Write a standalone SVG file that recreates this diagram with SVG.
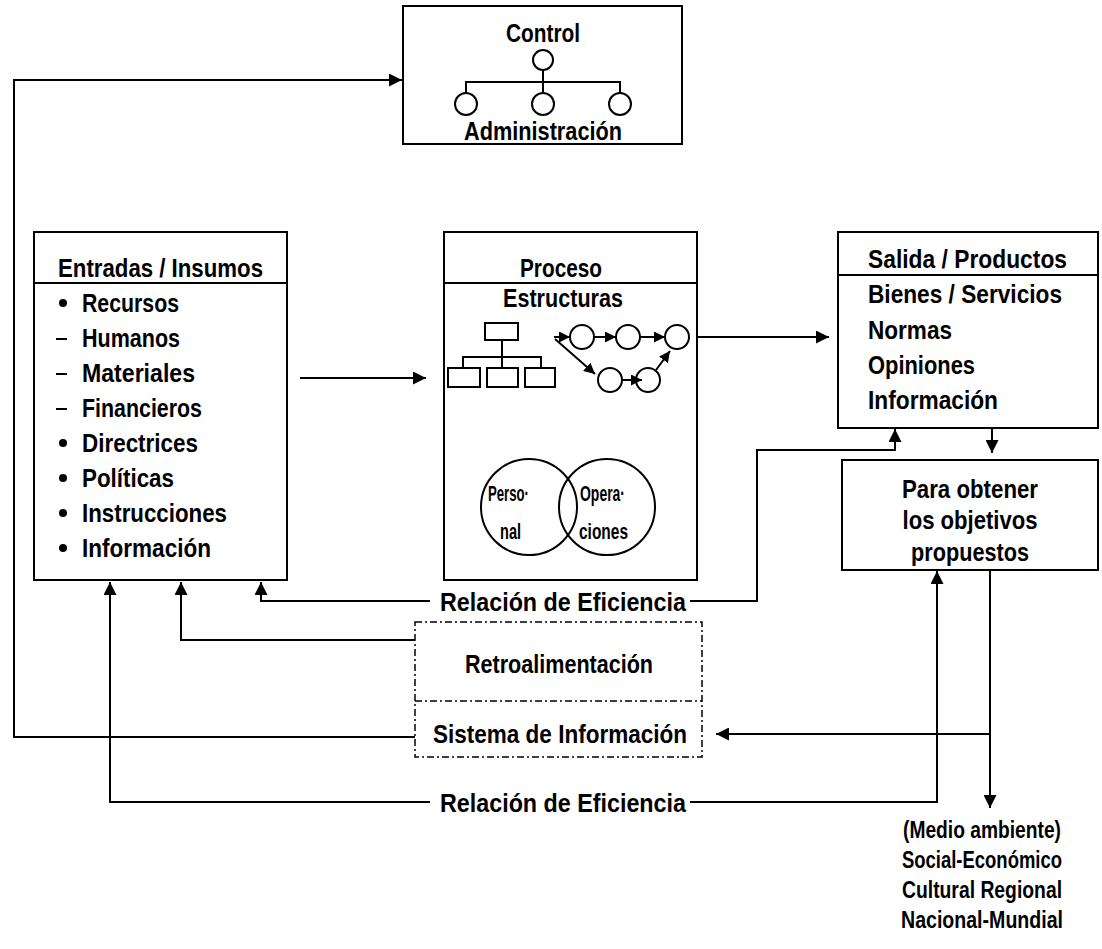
<svg xmlns="http://www.w3.org/2000/svg" width="1102" height="949" viewBox="0 0 1102 949">
  <style>
    .box { fill: #fff; stroke: #000; stroke-width: 2; }
    .ln { fill: none; stroke: #000; stroke-width: 2; }
    .dash { fill: none; stroke: #000; stroke-width: 1.5; stroke-dasharray: 7 3 2 3; }
    .t { font-family: "Liberation Sans", Arial, sans-serif; font-size: 26px; font-weight: bold; fill: #000; }
    .e { font-family: "Liberation Sans", Arial, sans-serif; font-size: 23px; font-weight: bold; fill: #000; }
    .s { font-family: "Liberation Sans", Arial, sans-serif; font-size: 22px; font-weight: bold; fill: #000; }
    .c { text-anchor: middle; }
  </style>
  <defs>
    <marker id="ah" viewBox="0 0 10 10" refX="10" refY="5" markerWidth="13" markerHeight="13" markerUnits="userSpaceOnUse" orient="auto">
      <path d="M0,0 L10,5 L0,10 z" fill="#000"/>
    </marker>
    <marker id="ahs" viewBox="0 0 10 10" refX="10" refY="5" markerWidth="11" markerHeight="11" markerUnits="userSpaceOnUse" orient="auto">
      <path d="M0,0 L10,5 L0,10 z" fill="#000"/>
    </marker>
  </defs>

  <!-- Control / Administración -->
  <g id="control">
    <rect class="box" x="403" y="6" width="279" height="138"/>
    <text class="t c" x="543" y="42" textLength="74" lengthAdjust="spacingAndGlyphs">Control</text>
    <circle class="ln" cx="543" cy="60" r="10"/>
    <path class="ln" d="M543,70 V82 M466,93 V82 H620 V93 M543,82 V93"/>
    <circle class="ln" cx="466" cy="104" r="11"/>
    <circle class="ln" cx="543" cy="104" r="11"/>
    <circle class="ln" cx="620" cy="104" r="11"/>
    <text class="t c" x="543" y="140" textLength="158" lengthAdjust="spacingAndGlyphs">Administración</text>
  </g>

  <!-- Entradas / Insumos -->
  <g id="entradas">
    <rect class="box" x="34" y="232" width="253" height="348"/>
    <line class="ln" x1="34" y1="283" x2="287" y2="283"/>
    <text class="t" x="58" y="277" textLength="205" lengthAdjust="spacingAndGlyphs">Entradas / Insumos</text>
    <circle cx="63" cy="303" r="4"/>
    <text class="t" x="82" y="312" textLength="97" lengthAdjust="spacingAndGlyphs">Recursos</text>
    <line class="ln" x1="56" y1="339" x2="67" y2="339"/>
    <text class="t" x="82" y="347" textLength="98" lengthAdjust="spacingAndGlyphs">Humanos</text>
    <line class="ln" x1="56" y1="374" x2="67" y2="374"/>
    <text class="t" x="82" y="382" textLength="113" lengthAdjust="spacingAndGlyphs">Materiales</text>
    <line class="ln" x1="56" y1="409" x2="67" y2="409"/>
    <text class="t" x="82" y="417" textLength="120" lengthAdjust="spacingAndGlyphs">Financieros</text>
    <circle cx="63" cy="443" r="4"/>
    <text class="t" x="82" y="452" textLength="116" lengthAdjust="spacingAndGlyphs">Directrices</text>
    <circle cx="63" cy="478" r="4"/>
    <text class="t" x="82" y="487" textLength="92" lengthAdjust="spacingAndGlyphs">Políticas</text>
    <circle cx="63" cy="513" r="4"/>
    <text class="t" x="82" y="522" textLength="145" lengthAdjust="spacingAndGlyphs">Instrucciones</text>
    <circle cx="63" cy="548" r="4"/>
    <text class="t" x="82" y="557" textLength="129" lengthAdjust="spacingAndGlyphs">Información</text>
  </g>

  <!-- Proceso -->
  <g id="proceso">
    <rect class="box" x="444" y="232" width="253" height="348"/>
    <line class="ln" x1="444" y1="283" x2="697" y2="283"/>
    <text class="t c" x="561" y="277" textLength="82" lengthAdjust="spacingAndGlyphs">Proceso</text>
    <text class="t c" x="563" y="307" textLength="120" lengthAdjust="spacingAndGlyphs">Estructuras</text>
    <!-- organisation chart -->
    <rect class="ln" x="485" y="323" width="33" height="17"/>
    <path class="ln" d="M502,340 V357 M463,368 V357 H541 V368 M502,357 V368"/>
    <rect class="ln" x="448" y="368" width="32" height="19"/>
    <rect class="ln" x="487" y="368" width="31" height="19"/>
    <rect class="ln" x="525" y="368" width="30" height="19"/>
    <!-- operations network -->
    <circle class="ln" cx="582" cy="337" r="12"/>
    <circle class="ln" cx="628" cy="337" r="12"/>
    <circle class="ln" cx="677" cy="337" r="12"/>
    <circle class="ln" cx="610" cy="380" r="12"/>
    <circle class="ln" cx="648" cy="380" r="12"/>
    <path class="ln" d="M554,337 H570" marker-end="url(#ahs)"/>
    <path class="ln" d="M594,337 H616" marker-end="url(#ahs)"/>
    <path class="ln" d="M640,337 H665" marker-end="url(#ahs)"/>
    <path class="ln" d="M555,339 L595,374" marker-end="url(#ahs)"/>
    <path class="ln" d="M622,380 H642" marker-end="url(#ahs)"/>
    <path class="ln" d="M656,370 L670,351" marker-end="url(#ahs)"/>
    <!-- Personal / Operaciones -->
    <circle class="ln" cx="529" cy="507" r="48"/>
    <circle class="ln" cx="607" cy="507" r="48"/>
    <text class="s" x="488" y="501" textLength="41" lengthAdjust="spacingAndGlyphs">Perso·</text>
    <text class="s" x="500" y="539" textLength="21" lengthAdjust="spacingAndGlyphs">nal</text>
    <text class="s" x="580" y="501" textLength="45" lengthAdjust="spacingAndGlyphs">Opera·</text>
    <text class="s" x="579" y="539" textLength="49" lengthAdjust="spacingAndGlyphs">ciones</text>
  </g>

  <!-- Salida / Productos -->
  <g id="salida">
    <rect class="box" x="838" y="232" width="260" height="196"/>
    <line class="ln" x1="838" y1="275" x2="1098" y2="275"/>
    <text class="t" x="868" y="268" textLength="199" lengthAdjust="spacingAndGlyphs">Salida / Productos</text>
    <text class="t" x="868" y="303" textLength="194" lengthAdjust="spacingAndGlyphs">Bienes / Servicios</text>
    <text class="t" x="868" y="339" textLength="84" lengthAdjust="spacingAndGlyphs">Normas</text>
    <text class="t" x="868" y="374" textLength="107" lengthAdjust="spacingAndGlyphs">Opiniones</text>
    <text class="t" x="868" y="409" textLength="130" lengthAdjust="spacingAndGlyphs">Información</text>
  </g>

  <!-- Para obtener los objetivos propuestos -->
  <g id="objetivos">
    <rect class="box" x="842" y="460" width="256" height="110"/>
    <text class="t c" x="970" y="498" textLength="136" lengthAdjust="spacingAndGlyphs">Para obtener</text>
    <text class="t c" x="970" y="529" textLength="135" lengthAdjust="spacingAndGlyphs">los objetivos</text>
    <text class="t c" x="970" y="561" textLength="118" lengthAdjust="spacingAndGlyphs">propuestos</text>
  </g>

  <!-- Retroalimentación / Sistema de Información -->
  <g id="retroalimentacion">
    <rect class="dash" x="415" y="622" width="287" height="135"/>
    <line class="dash" x1="415" y1="701" x2="702" y2="701"/>
    <text class="t c" x="559" y="673" textLength="188" lengthAdjust="spacingAndGlyphs">Retroalimentación</text>
    <text class="t c" x="560" y="743" textLength="254" lengthAdjust="spacingAndGlyphs">Sistema de Información</text>
  </g>

  <!-- Entorno -->
  <g id="entorno">
    <text class="e c" x="982" y="838" textLength="158" lengthAdjust="spacingAndGlyphs">(Medio ambiente)</text>
    <text class="e c" x="982" y="868" textLength="160" lengthAdjust="spacingAndGlyphs">Social-Económico</text>
    <text class="e c" x="982" y="898" textLength="160" lengthAdjust="spacingAndGlyphs">Cultural Regional</text>
    <text class="e c" x="982" y="928" textLength="162" lengthAdjust="spacingAndGlyphs">Nacional-Mundial</text>
  </g>

  <!-- Connectors -->
  <g id="connectors">
    <!-- information system loop to control -->
    <path class="ln" d="M415,737 H14 V80 H402" marker-end="url(#ah)"/>
    <!-- inputs to process, process to outputs -->
    <path class="ln" d="M300,378 H426" marker-end="url(#ah)"/>
    <path class="ln" d="M698,337 H829" marker-end="url(#ah)"/>
    <!-- outputs to objectives -->
    <path class="ln" d="M992,428 V453" marker-end="url(#ah)"/>
    <!-- efficiency relation (upper) -->
    <path class="ln" d="M430,601 H261 V582" marker-end="url(#ah)"/>
    <path class="ln" d="M690,601 H757 V450 H895 V429" marker-end="url(#ah)"/>
    <text class="t c" x="563" y="611" textLength="246" lengthAdjust="spacingAndGlyphs">Relación de Eficiencia</text>
    <!-- feedback -->
    <path class="ln" d="M415,640 H181 V582" marker-end="url(#ah)"/>
    <!-- environment back to information system -->
    <path class="ln" d="M990,734 H716" marker-end="url(#ah)"/>
    <path class="ln" d="M990,571 V808" marker-end="url(#ah)"/>
    <!-- efficiency relation (lower) -->
    <path class="ln" d="M430,802 H110 V582" marker-end="url(#ah)"/>
    <path class="ln" d="M690,802 H937 V571" marker-end="url(#ah)"/>
    <text class="t c" x="563" y="812" textLength="246" lengthAdjust="spacingAndGlyphs">Relación de Eficiencia</text>
  </g>
</svg>
